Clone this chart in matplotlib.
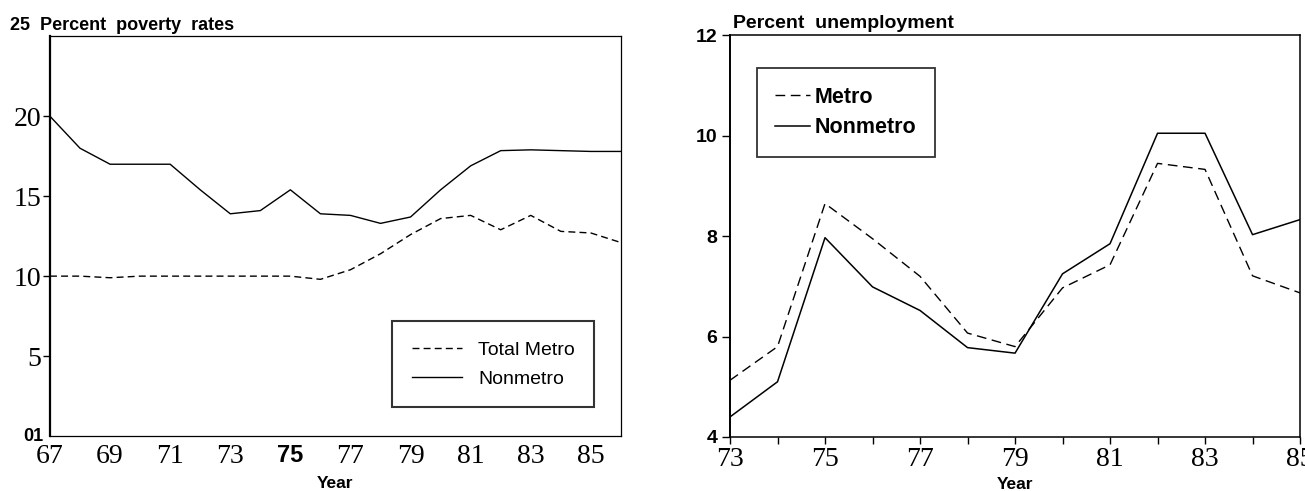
import matplotlib
matplotlib.use("Agg")
import matplotlib.pyplot as plt

# poverty rates, 1967-86
pov_years = list(range(67, 87))
pov_metro = [10.0, 10.0, 9.9, 10.0, 10.0, 10.0, 10.0, 10.0, 10.0, 9.8,
             10.4, 11.4, 12.6, 13.6, 13.8, 12.9, 13.8, 12.8, 12.7, 12.1]
pov_nonmetro = [20.0, 18.0, 17.0, 17.0, 17.0, 15.4, 13.9, 14.1, 15.4, 13.9,
                13.8, 13.3, 13.7, 15.4, 16.9, 17.85, 17.9, 17.85, 17.8, 17.8]
pov_xticks = [67, 69, 71, 73, 75, 77, 79, 81, 83, 85]
pov_yticks = [5, 10, 15, 20]

# unemployment, 1973-85
unemp_years = list(range(73, 86))
unemp_metro = [5.13, 5.8, 8.65, 7.95, 7.2, 6.07, 5.8, 6.97, 7.43, 9.45, 9.33, 7.21, 6.87]
unemp_nonmetro = [4.4, 5.1, 7.97, 6.99, 6.52, 5.78, 5.67, 7.25, 7.85, 10.05, 10.05, 8.03, 8.33]
unemp_xticks = [73, 75, 77, 79, 81, 83, 85]
unemp_yticks = [4, 6, 8, 10, 12]

SERIF = "Liberation Serif"
SANS = "Liberation Sans"


def poverty_panel(ax):
    ax.plot(pov_years, pov_metro, color="black", lw=1.0, ls=(0, (5, 3)), label="Total Metro")
    ax.plot(pov_years, pov_nonmetro, color="black", lw=1.0, label="Nonmetro")
    ax.set_xlim(67, 86)
    ax.set_ylim(0, 25)

    ax.set_xticks(pov_xticks)
    ax.set_xticklabels([str(t) for t in pov_xticks], fontfamily=SERIF, fontsize=20)
    lab75 = ax.get_xticklabels()[pov_xticks.index(75)]
    lab75.set_fontfamily(SANS)
    lab75.set_fontweight("bold")
    lab75.set_fontsize(17)
    ax.tick_params(axis="x", length=0, pad=6)

    ax.set_yticks(pov_yticks)
    ax.set_yticklabels([str(t) for t in pov_yticks], fontfamily=SERIF, fontsize=20)
    ax.tick_params(axis="y", length=5, width=1, pad=1)
    ax.text(-0.012, 0.0, "01", transform=ax.transAxes, ha="right", va="center",
            fontfamily=SANS, fontweight="bold", fontsize=13)

    ax.set_xlabel("Year", fontfamily=SANS, fontweight="bold", fontsize=12.5, labelpad=5)
    ax.spines["left"].set_linewidth(1.6)
    for s in ["top", "right", "bottom"]:
        ax.spines[s].set_linewidth(0.9)

    leg = ax.legend(loc="lower right", bbox_to_anchor=(0.953, 0.072), frameon=True,
                    fancybox=False, edgecolor="black", handlelength=2.6,
                    borderpad=1.0, labelspacing=0.6, handletextpad=0.8,
                    borderaxespad=0, prop={"family": SANS, "size": 14})
    leg.get_frame().set_linewidth(1.5)


def unemployment_panel(ax):
    ax.plot(unemp_years, unemp_metro, color="black", lw=1.0, ls=(0, (7, 4)), label="Metro")
    ax.plot(unemp_years, unemp_nonmetro, color="black", lw=1.1, label="Nonmetro")
    ax.set_xlim(73, 85)
    ax.set_ylim(4, 12)

    ax.set_xticks(unemp_years, minor=True)
    ax.set_xticks(unemp_xticks)
    ax.set_xticklabels([str(t) for t in unemp_xticks], fontfamily=SERIF, fontsize=20)
    ax.tick_params(axis="x", which="both", length=5, width=1, pad=2)

    ax.set_yticks(unemp_yticks)
    ax.set_yticklabels([str(t) for t in unemp_yticks], fontfamily=SANS,
                       fontweight="bold", fontsize=14)
    ax.tick_params(axis="y", length=6, width=1, pad=3)

    ax.set_xlabel("Year", fontfamily=SANS, fontweight="bold", fontsize=12.5, labelpad=4)
    ax.spines["left"].set_linewidth(1.4)
    for s in ["top", "right", "bottom"]:
        ax.spines[s].set_linewidth(1.1)

    leg = ax.legend(loc="upper left", bbox_to_anchor=(0.047, 0.918), frameon=True,
                    fancybox=False, edgecolor="black", handlelength=1.6,
                    borderpad=0.85, labelspacing=0.45, handletextpad=0.25,
                    borderaxespad=0, prop={"family": SANS, "size": 15.5, "weight": "bold"})
    leg.get_frame().set_linewidth(1.3)


fig = plt.figure(figsize=(13.05, 4.91), dpi=100)
ax1 = fig.add_axes([0.0383, 0.112, 0.4375, 0.814])
ax2 = fig.add_axes([0.5594, 0.110, 0.4368, 0.818])

poverty_panel(ax1)
unemployment_panel(ax2)

fig.text(10 / 1305, 1 - 25 / 491, "25  Percent  poverty  rates", fontfamily=SANS,
         fontweight="bold", fontsize=13, va="center", ha="left")
fig.text(733 / 1305, 1 - 23 / 491, "Percent  unemployment", fontfamily=SANS,
         fontweight="bold", fontsize=14, va="center", ha="left")

fig.savefig("out.png", dpi=100)
